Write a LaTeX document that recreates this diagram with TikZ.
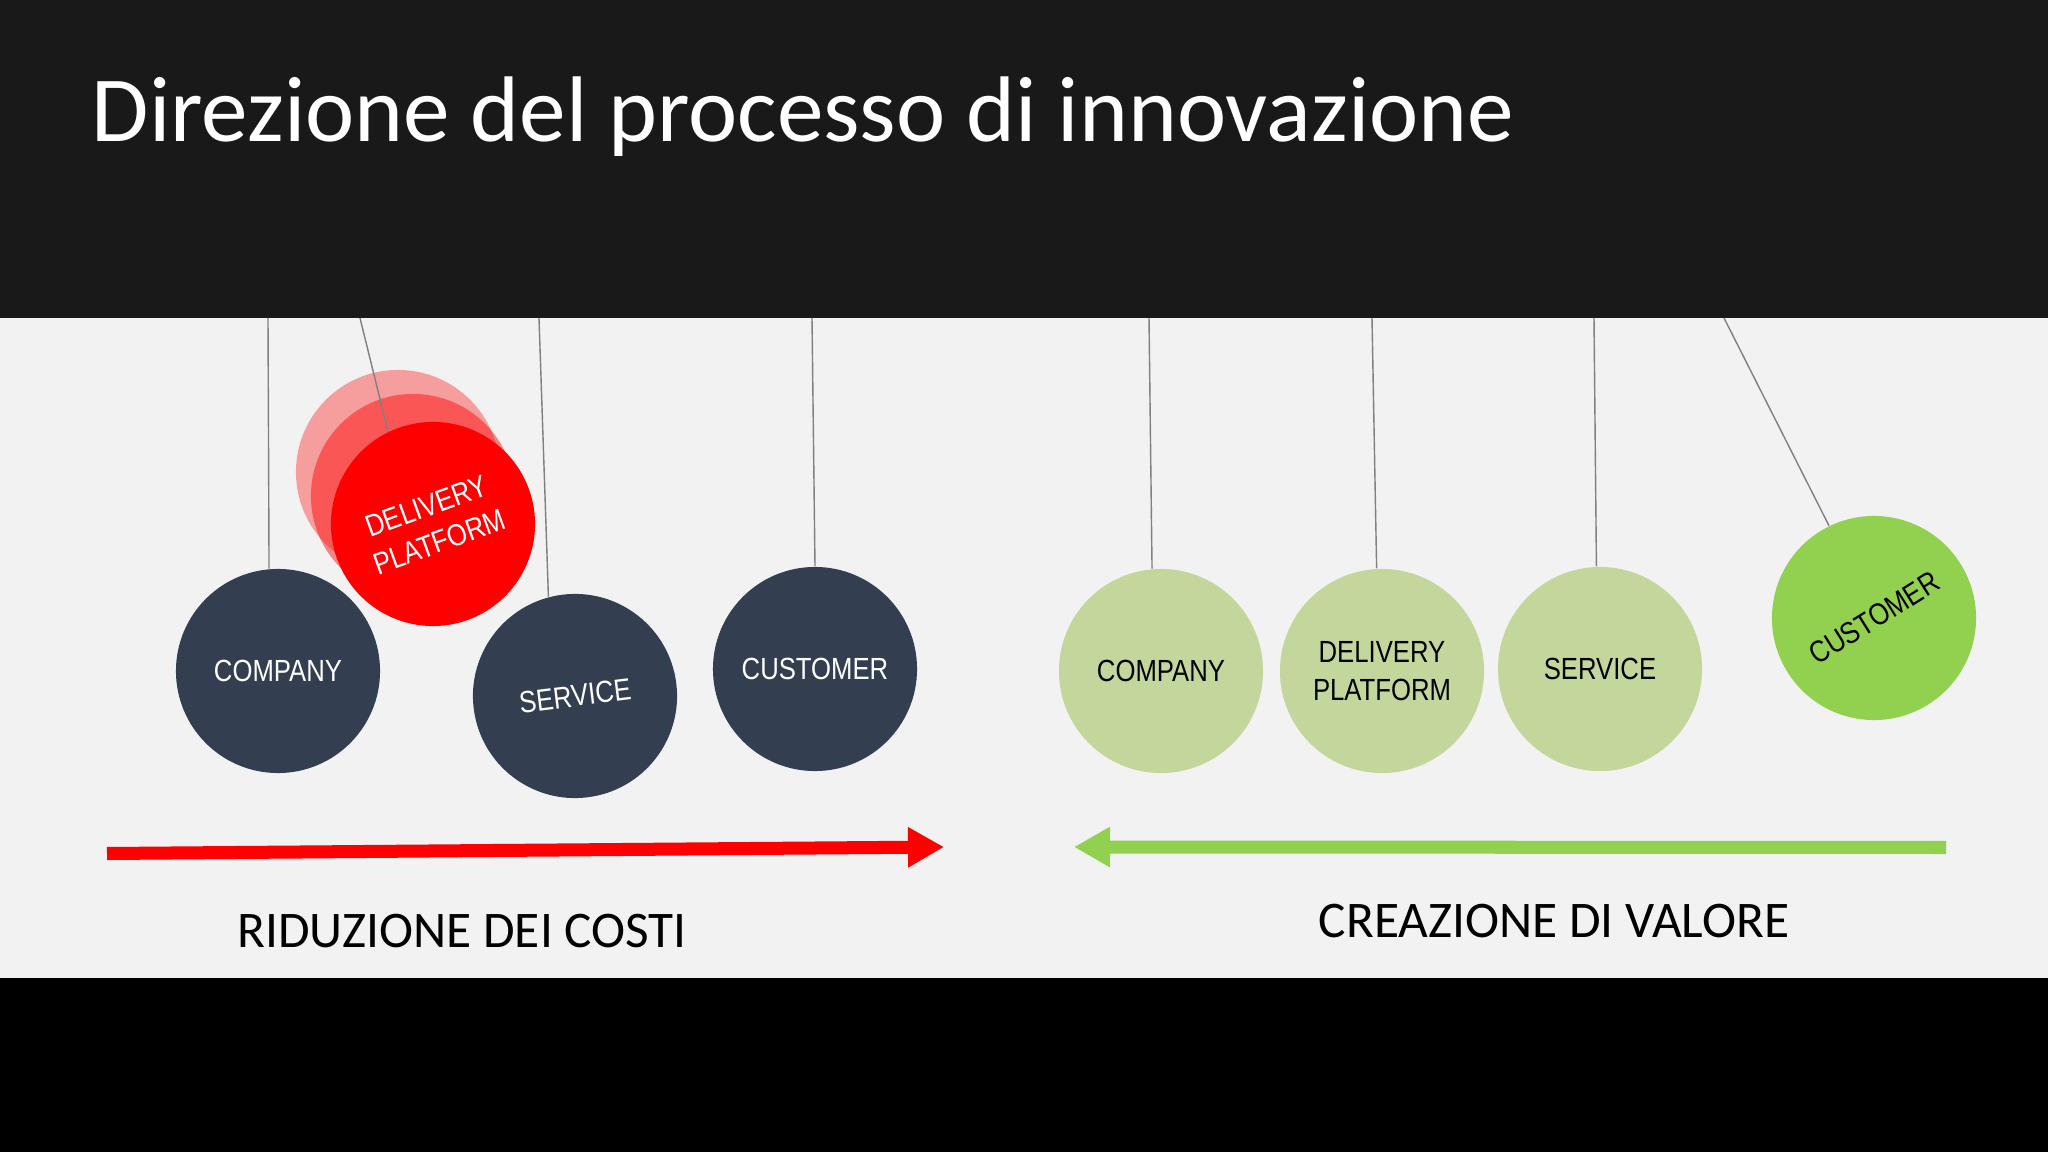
\documentclass[tikz,border=0pt]{standalone}
\usepackage{fontspec}
\setmainfont{Carlito}
\newfontfamily\ballfont[FakeStretch=0.84]{Liberation Sans}
\usetikzlibrary{arrows.meta}
\definecolor{topband}{HTML}{191919}
\definecolor{paper}{HTML}{F2F2F2}
\definecolor{slate}{HTML}{333F50}
\definecolor{palegreen}{HTML}{C3D69B}
\definecolor{brightgreen}{HTML}{92D050}
\begin{document}
\begin{tikzpicture}[x=0.01cm,y=-0.01cm,
    ball/.style={circle,minimum size=2.04cm,inner sep=0pt,align=center,
      font=\ballfont\fontsize{8.7}{10.8}\selectfont},
    darkball/.style={ball,fill=slate,text=white},
    paleball/.style={ball,fill=palegreen,text=black},
    thread/.style={draw=gray,line width=0.4pt},
    bigarrow/.style={line width=3.7pt,-{Triangle[length=0.36cm,width=0.38cm]}},
    caption/.style={anchor=base,inner sep=0pt,font=\fontsize{14.6}{17}\selectfont}]
    \useasboundingbox (0,0) rectangle (2048,1152);
    \fill[black] (0,978) rectangle (2048,1152);
    \fill[paper] (0,318) rectangle (2048,978);
    \fill[topband] (0,0) rectangle (2048,318);
    \node[anchor=base west,inner sep=0pt,text=white,font=\fontsize{26.5}{30}\selectfont] (title) at (91,142) {Direzione del processo di innovazione};

    \coordinate (tl1) at (268,318);
    \coordinate (tl2) at (360,318);
    \coordinate (tl3) at (539,318);
    \coordinate (tl4) at (812,318);
    \coordinate (tr1) at (1149,318);
    \coordinate (tr2) at (1372,318);
    \coordinate (tr3) at (1594,318);
    \coordinate (tr4) at (1724,318);

    \node[ball,fill=red,fill opacity=0.35] (ghostA) at (398,472) {};
    \node[ball,fill=red,fill opacity=0.45] (ghostB) at (413,496) {};
    \draw[thread] (tl2) -- (ghostA.center);
    \node[ball,fill=red,text=white,rotate=20] (dpL) at (433,524) {DELIVERY\\PLATFORM};
    \node[darkball] (compL) at (278,671) {COMPANY};
    \node[darkball,rotate=7] (servL) at (575,696) {SERVICE};
    \node[darkball] (custL) at (815,669) {CUSTOMER};
    \draw[thread] (tl1) -- (compL.95);
    \draw[thread] (tl3) -- (servL.98);
    \draw[thread] (tl4) -- (custL.90);

    \node[paleball] (compR) at (1161,671) {COMPANY};
    \node[paleball] (dpR) at (1382,671) {DELIVERY\\PLATFORM};
    \node[paleball] (servR) at (1600,669) {SERVICE};
    \node[ball,fill=brightgreen,rotate=32] (custR) at (1874,618) {CUSTOMER};
    \draw[thread] (tr1) -- (compR.95);
    \draw[thread] (tr2) -- (dpR.93);
    \draw[thread] (tr3) -- (servR.92);
    \draw[thread] (tr4) -- (custR.84);

    \coordinate (costA) at (107,853.5);
    \coordinate (costB) at (944,847);
    \coordinate (valA) at (1946,847.5);
    \coordinate (valB) at (1074,847);
    \draw[bigarrow,red] (costA) -- (costB);
    \draw[bigarrow,brightgreen] (valA) -- (valB);
    \node[caption] (costs) at (462,947) {RIDUZIONE DEI COSTI};
    \node[caption] (value) at (1554,937) {CREAZIONE DI VALORE};
\end{tikzpicture}
\end{document}
